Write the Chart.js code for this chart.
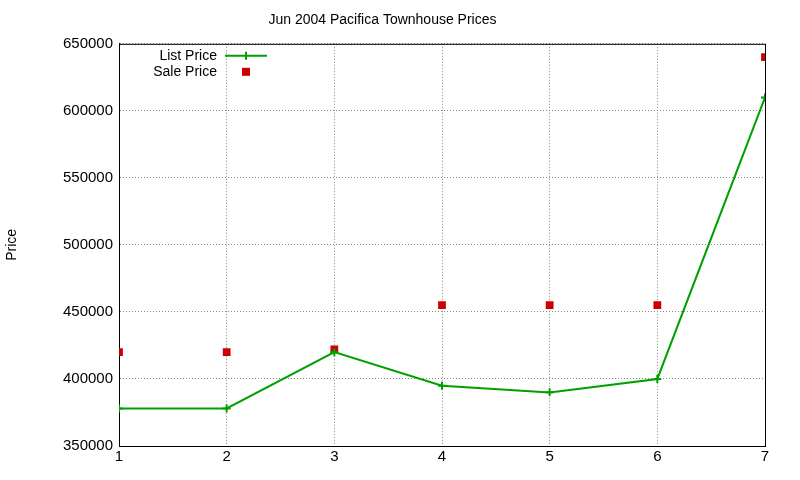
<!DOCTYPE html>
<html>
<head>
<meta charset="utf-8">
<script src="https://cdn.jsdelivr.net/npm/chart.js@4"></script>
<style>
  html, body { margin: 0; padding: 0; background: #fff; }
  #wrap { width: 800px; height: 480px; position: relative; }
</style>
</head>
<body>
<div id="wrap"><canvas id="chart"></canvas></div>
<script>
// Data
const xValues = [1, 2, 3, 4, 5, 6, 7];
const listPrice = [378000, 378000, 420000, 395000, 390000, 400000, 610000];
const salePrice = [420000, 420000, 422000, 455000, 455000, 455000, 640000];
const yTicks = [350000, 400000, 450000, 500000, 550000, 600000, 650000];

const FONT = "'Liberation Sans', Arial, sans-serif";
Chart.defaults.font.family = FONT;
Chart.defaults.color = "#000";

// gnuplot-style legend inside plot, top-left
const keyPlugin = {
  id: "key",
  afterDraw(chart) {
    const ctx = chart.ctx;
    const a = chart.chartArea;
    const items = [
      { label: "List Price", type: "line" },
      { label: "Sale Price", type: "square" }
    ];
    ctx.save();
    ctx.font = "14px " + FONT;
    ctx.textAlign = "right";
    ctx.textBaseline = "middle";
    items.forEach((it, i) => {
      const y = a.top + 12 + i * 16;
      const tx = a.left + 98;
      const sx = a.left + 127;
      ctx.fillStyle = "#000";
      ctx.fillText(it.label, tx, y);
      if (it.type === "line") {
        ctx.strokeStyle = "#00a000";
        ctx.lineWidth = 2;
        ctx.beginPath();
        ctx.moveTo(a.left + 106, y); ctx.lineTo(a.left + 148, y);
        ctx.moveTo(sx, y - 4); ctx.lineTo(sx, y + 4);
        ctx.moveTo(sx - 4, y); ctx.lineTo(sx + 4, y);
        ctx.stroke();
      } else {
        ctx.fillStyle = "#cc0000";
        ctx.fillRect(sx - 4, y - 4, 8, 8);
      }
    });
    ctx.restore();
  }
};

new Chart(document.getElementById("chart"), {
  type: "line",
  data: {
    datasets: [
      {
        label: "List Price",
        data: xValues.map((x, i) => ({ x, y: listPrice[i] })),
        borderColor: "#00a000",
        backgroundColor: "#00a000",
        borderWidth: 2,
        pointStyle: "cross",
        pointRadius: 4,
        pointBorderWidth: 2,
        tension: 0
      },
      {
        label: "Sale Price",
        data: xValues.map((x, i) => ({ x, y: salePrice[i] })),
        showLine: false,
        borderColor: "#cc0000",
        backgroundColor: "#cc0000",
        pointStyle: "rect",
        pointRadius: 5.5,
        pointBorderWidth: 0
      }
    ]
  },
  options: {
    responsive: true,
    maintainAspectRatio: false,
    animation: false,
    layout: { padding: { top: 0, right: 35, bottom: 12, left: 0 } },
    plugins: {
      legend: { display: false },
      tooltip: { enabled: false },
      title: {
        display: true,
        text: "Jun 2004 Pacifica Townhouse Prices",
        font: { size: 14, weight: "normal" },
        padding: { top: 12, bottom: 15 }
      }
    },
    scales: {
      x: {
        type: "linear",
        min: 1, max: 7,
        ticks: { stepSize: 1, font: { size: 15 }, padding: 2 },
        grid: { color: "#888", tickLength: 0, lineWidth: 1 },
        border: { color: "#000", dash: [1, 2] }
      },
      y: {
        min: 350000, max: 650000,
        afterFit(s) { s.width = 119; },
        afterBuildTicks(s) { s.ticks = yTicks.map(v => ({ value: v })); },
        ticks: { font: { size: 15 }, padding: 6, callback: v => String(v) },
        title: { display: true, text: "Price", font: { size: 14 }, padding: { bottom: 28 } },
        grid: { color: "#888", tickLength: 0 },
        border: { color: "#000", dash: [1, 2] }
      }
    }
  },
  plugins: [keyPlugin, {
    id: "frame",
    beforeDatasetsDraw(chart) {
      const { ctx, chartArea: a } = chart;
      ctx.save();
      ctx.strokeStyle = "#000";
      ctx.lineWidth = 1;
      ctx.strokeRect(a.left + 0.5, a.top + 0.5, a.width, a.height);
      ctx.restore();
    }
  }]
});
</script>
</body>
</html>
